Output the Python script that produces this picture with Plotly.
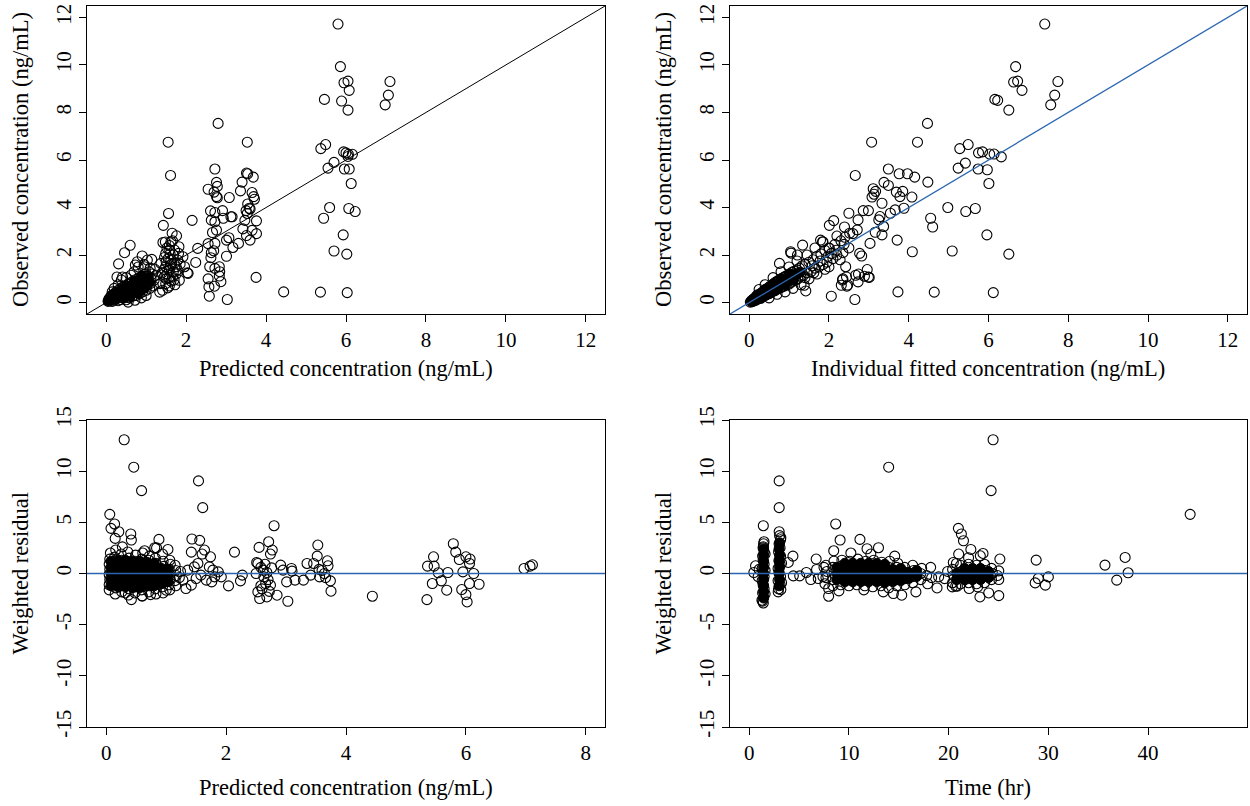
import plotly.graph_objects as go

# ---------------- data ----------------
# Panel 1: population predicted vs observed concentration (ng/mL)
pred_obs_sparse = [
    (5.80, 11.72), (5.86, 9.93), (5.95, 9.25), (6.05, 9.32), (6.08, 8.93), (7.10, 9.30), (7.06, 8.73),
    (6.98, 8.32), (5.46, 8.55), (5.89, 8.48), (6.05, 8.10), (2.80, 7.54), (1.55, 6.75), (3.53, 6.75),
    (5.37, 6.48), (5.49, 6.65), (5.94, 6.34), (6.00, 6.30), (6.06, 6.24), (6.16, 6.24), (6.05, 6.15),
    (5.70, 5.90), (5.55, 5.66), (5.96, 5.62), (6.08, 5.62), (6.13, 5.01), (1.61, 5.35), (2.72, 5.62),
    (3.51, 5.45), (3.54, 5.42), (3.68, 5.28), (3.40, 5.07), (2.76, 5.06), (2.78, 4.89), (2.55, 4.77),
    (2.70, 4.65), (2.76, 4.46), (2.78, 4.41), (3.08, 4.42), (3.36, 4.70), (3.65, 4.63), (3.69, 4.46),
    (3.71, 4.35), (3.54, 4.15), (3.58, 3.97), (3.50, 3.87), (5.59, 4.00), (6.07, 3.96), (6.23, 3.83),
    (5.44, 3.55), (1.56, 3.75), (2.15, 3.46), (1.43, 3.25), (2.61, 3.86), (2.72, 3.79), (2.63, 3.47),
    (2.72, 3.40), (2.76, 3.05), (2.66, 2.95), (2.91, 3.87), (2.93, 3.55), (3.15, 3.61), (3.12, 3.61),
    (3.53, 3.75), (3.60, 3.94), (3.76, 3.44), (3.47, 3.46), (3.42, 3.10), (3.65, 3.04), (3.76, 2.90),
    (3.51, 2.82), (3.60, 2.63), (5.93, 2.85), (5.70, 2.17), (6.02, 2.04), (1.42, 2.53), (1.65, 2.92),
    (1.76, 2.81), (1.62, 2.56), (2.55, 2.48), (2.72, 2.49), (2.63, 2.10), (2.69, 2.18), (2.62, 1.89),
    (2.59, 1.51), (2.72, 1.44), (2.83, 1.51), (2.84, 1.30), (2.83, 1.12), (2.87, 0.88), (2.55, 1.00),
    (2.57, 0.66), (2.71, 0.69), (2.58, 0.27), (3.03, 0.13), (3.07, 2.73), (3.01, 2.63), (3.17, 2.32),
    (3.31, 2.49), (3.01, 1.95), (2.29, 2.28), (2.24, 1.69), (2.03, 1.25), (3.75, 1.06), (4.44, 0.45),
    (5.36, 0.44), (6.03, 0.42), (0.60, 2.41), (0.46, 2.10), (0.31, 1.63),
    (1.49, 2.07), (1.59, 2.21), (1.71, 2.21), (1.81, 2.07), (1.92, 1.93), (1.96, 1.51), (2.05, 1.23),
    (1.83, 0.94), (1.66, 1.08), (1.49, 0.80), (1.41, 0.52), (1.34, 0.44), (1.58, 1.37), (1.75, 1.51),
    (1.49, 1.51), (1.37, 1.65), (1.45, 1.08), (1.62, 1.79), (1.79, 1.79), (1.52, 1.20), (1.60, 1.55),
    (1.68, 1.30), (1.55, 1.85), (1.70, 1.65), (1.50, 1.00), (1.62, 0.90), (1.45, 1.40), (1.75, 1.20),
    (1.58, 2.40), (1.66, 2.60), (1.52, 2.30), (0.78, 1.72), (0.90, 1.96), (1.03, 1.79), (1.14, 1.82),
    (0.73, 1.58), (0.95, 1.51), (0.27, 1.08), (0.41, 1.08), (1.54, 0.62), (1.72, 0.75), (1.46, 1.90),
    (1.68, 2.00), (1.57, 1.05), (1.78, 1.38), (1.40, 1.25), (1.64, 1.62), (1.50, 1.72), (1.85, 1.62),
    (1.35, 0.80), (1.58, 0.70), (1.70, 0.95), (1.48, 2.55), (1.60, 2.05), (1.82, 2.35),
]
pred_obs_rings = [
    (0.05, 0.05), (0.07, 0.15), (0.09, 0.08), (0.10, 0.22), (0.12, 0.12), (0.13, 0.30), (0.15, 0.05),
    (0.16, 0.18), (0.18, 0.35), (0.20, 0.10), (0.21, 0.26), (0.23, 0.42), (0.25, 0.16), (0.27, 0.32),
    (0.28, 0.50), (0.30, 0.08), (0.31, 0.22), (0.33, 0.40), (0.35, 0.58), (0.36, 0.13), (0.38, 0.30),
    (0.40, 0.47), (0.41, 0.65), (0.43, 0.20), (0.45, 0.37), (0.46, 0.55), (0.48, 0.72), (0.50, 0.12),
    (0.51, 0.28), (0.53, 0.45), (0.55, 0.62), (0.56, 0.80), (0.58, 0.20), (0.60, 0.36), (0.61, 0.53),
    (0.63, 0.70), (0.65, 0.88), (0.66, 0.27), (0.68, 0.44), (0.70, 0.62), (0.71, 0.79), (0.73, 0.96),
    (0.75, 0.30), (0.76, 0.50), (0.78, 0.68), (0.80, 0.86), (0.81, 1.04), (0.83, 0.38), (0.85, 0.56),
    (0.86, 0.75), (0.88, 0.94), (0.90, 1.12), (0.91, 0.45), (0.93, 0.64), (0.95, 0.83), (0.96, 1.01),
    (0.98, 1.20), (1.00, 0.52), (1.02, 0.72), (1.03, 0.92), (1.05, 1.10), (1.07, 1.30), (1.09, 0.60),
    (1.10, 0.80), (1.12, 1.00), (1.15, 1.20), (1.18, 0.70), (1.20, 0.95), (1.22, 1.40), (0.30, 0.75),
    (0.20, 0.60), (0.38, 0.95), (0.50, 1.05), (0.62, 1.15), (0.70, 1.30), (0.15, 0.45), (0.55, 0.02),
    (0.72, 0.10), (0.88, 0.20), (1.00, 0.30), (0.80, 1.50), (0.95, 1.60), (1.25, 1.15), (1.10, 1.45),
]
# heavily overplotted core (drawn as solid, as the overlapping rings appear)
pred_obs_core = [
    (0.10, 0.12), (0.15, 0.20), (0.20, 0.15), (0.25, 0.30), (0.30, 0.20), (0.35, 0.40), (0.40, 0.30),
    (0.45, 0.50), (0.50, 0.35), (0.55, 0.60), (0.60, 0.45), (0.65, 0.70), (0.70, 0.50), (0.75, 0.80),
    (0.80, 0.60), (0.85, 0.90), (0.90, 0.70), (0.95, 1.00), (1.00, 0.80), (0.30, 0.45), (0.50, 0.70),
    (0.70, 0.90), (0.60, 0.25), (0.80, 0.40), (0.95, 0.60), (0.20, 0.35), (0.40, 0.55), (0.05, 0.08),
    (1.05, 1.05), (0.45, 0.20), (0.88, 1.10), (1.08, 0.85),
]

# Panel 2: individual fitted vs observed concentration (ng/mL)
ipred_obs_sparse = [
    (7.41, 11.72), (6.68, 9.93), (6.63, 9.28), (6.73, 9.32), (6.84, 8.93), (7.74, 9.30), (7.66, 8.73),
    (7.56, 8.32), (6.16, 8.55), (6.23, 8.51), (6.51, 8.10), (4.47, 7.54), (3.07, 6.75), (4.22, 6.75),
    (5.28, 6.48), (5.49, 6.65), (5.75, 6.30), (5.85, 6.34), (6.03, 6.25), (6.14, 6.25), (6.32, 6.13),
    (5.42, 5.87), (5.24, 5.66), (5.74, 5.62), (5.97, 5.59), (6.01, 5.01), (2.66, 5.35), (3.49, 5.62),
    (3.76, 5.42), (3.97, 5.42), (4.15, 5.28), (4.48, 5.07), (3.38, 5.06), (3.49, 4.93), (3.11, 4.79),
    (3.17, 4.68), (3.08, 4.44), (3.13, 4.56), (3.33, 4.18), (3.69, 4.65), (3.85, 4.68), (3.78, 4.46),
    (4.08, 4.44), (3.66, 3.90), (3.88, 3.97), (3.54, 3.76), (4.98, 4.00), (5.43, 3.83), (5.67, 3.96),
    (4.55, 3.55), (4.60, 3.18), (5.96, 2.85), (4.09, 2.14), (5.09, 2.17), (6.51, 2.04), (3.73, 0.45),
    (4.64, 0.44), (6.12, 0.42), (2.06, 0.27), (2.65, 0.13), (2.50, 3.76), (2.86, 3.87), (2.99, 3.87),
    (3.28, 3.62), (3.25, 3.48), (2.12, 3.45), (2.01, 3.25), (2.39, 3.18), (2.73, 3.48), (2.71, 3.06),
    (2.52, 2.92), (3.16, 2.96), (3.33, 2.85), (3.71, 2.63), (3.37, 3.20), (3.03, 2.49), (2.82, 1.96),
    (2.77, 2.07), (2.42, 1.51), (2.44, 1.08), (2.35, 1.00), (2.31, 0.73), (2.45, 0.69), (2.67, 1.15),
    (2.73, 0.87), (2.96, 1.39), (3.01, 1.06), (2.89, 1.11), (1.34, 2.42), (1.04, 2.14), (1.21, 2.00),
    (0.76, 1.65), (1.79, 2.63), (1.84, 2.56), (2.01, 2.28), (2.06, 2.07), (1.38, 0.73), (1.42, 0.49),
    (2.34, 0.95), (2.47, 0.74), (2.74, 1.20), (2.99, 1.07), (1.05, 2.08),
]
ipred_obs_rings = [
    (0.03, 0.02), (0.06, 0.08), (0.08, 0.04), (0.10, 0.14), (0.12, 0.07), (0.14, 0.20), (0.16, 0.10),
    (0.18, 0.25), (0.20, 0.14), (0.22, 0.30), (0.24, 0.17), (0.26, 0.35), (0.28, 0.20), (0.30, 0.40),
    (0.32, 0.24), (0.34, 0.45), (0.36, 0.28), (0.38, 0.50), (0.40, 0.30), (0.42, 0.55), (0.44, 0.34),
    (0.46, 0.60), (0.48, 0.38), (0.50, 0.65), (0.52, 0.40), (0.54, 0.70), (0.56, 0.44), (0.58, 0.75),
    (0.60, 0.48), (0.62, 0.80), (0.64, 0.50), (0.66, 0.85), (0.68, 0.55), (0.70, 0.90), (0.72, 0.58),
    (0.75, 0.95), (0.78, 0.62), (0.80, 1.00), (0.83, 0.66), (0.86, 1.05), (0.88, 0.70), (0.90, 1.10),
    (0.93, 0.74), (0.96, 1.15), (1.00, 0.78), (1.02, 1.20), (1.05, 0.85), (1.08, 1.28), (1.10, 0.90),
    (1.13, 1.32), (1.16, 0.95), (1.20, 1.38), (1.22, 1.00), (1.26, 1.45), (1.30, 1.10), (1.33, 1.55),
    (1.36, 1.15), (1.40, 1.62), (1.45, 1.25), (1.50, 1.70), (1.55, 1.30), (1.60, 1.80), (1.65, 1.45),
    (1.70, 1.95), (1.75, 1.50), (1.80, 2.05), (1.85, 1.60), (1.90, 2.20), (1.95, 1.70), (2.00, 2.30),
    (2.10, 1.85), (2.15, 2.45), (2.20, 2.00), (2.30, 2.60), (2.35, 2.10), (2.40, 2.75), (0.50, 0.20),
    (0.70, 0.35), (0.90, 0.45), (1.10, 0.60), (1.30, 0.75), (0.40, 0.75), (0.60, 1.05), (0.80, 1.30),
    (1.00, 1.50), (1.20, 1.75), (0.25, 0.55), (1.50, 1.00), (1.70, 1.20), (1.90, 1.40), (1.45, 2.00),
    (1.65, 2.30), (2.00, 1.50), (2.50, 2.30), (2.60, 2.90), (2.20, 2.80), (1.85, 2.55), (1.58, 1.55),
    (1.78, 1.75), (1.98, 1.95), (2.18, 2.20), (2.38, 2.45), (1.40, 1.05), (1.62, 1.25), (2.28, 1.80),
]
ipred_obs_core = [
    (0.05, 0.05), (0.10, 0.10), (0.15, 0.13), (0.20, 0.20), (0.25, 0.22), (0.30, 0.30), (0.35, 0.33),
    (0.40, 0.40), (0.45, 0.42), (0.50, 0.50), (0.55, 0.52), (0.60, 0.60), (0.65, 0.63), (0.70, 0.70),
    (0.75, 0.72), (0.80, 0.80), (0.85, 0.83), (0.90, 0.90), (0.95, 0.92), (1.00, 1.00), (1.05, 1.03),
    (1.10, 1.10), (1.15, 1.12), (1.20, 1.20), (1.28, 1.28), (0.30, 0.18), (0.50, 0.38), (0.70, 0.58),
    (0.90, 0.76), (1.10, 0.95), (0.40, 0.55), (0.60, 0.78), (0.80, 1.00), (1.00, 1.20), (0.20, 0.32),
]

# Panel 3: population predicted concentration vs weighted residual
pred_wres_sparse = [
    (0.30, 13.07), (0.46, 10.39), (0.59, 8.10), (1.54, 9.05), (1.61, 6.44), (0.06, 5.78), (0.14, 4.84),
    (0.08, 4.41), (0.21, 4.08), (2.80, 4.67), (0.41, 3.86), (0.15, 3.43), (0.42, 3.27), (0.88, 3.33),
    (1.43, 3.37), (1.56, 3.24), (2.71, 3.10), (5.79, 2.91), (3.53, 2.78), (2.55, 2.55), (0.81, 2.52),
    (1.03, 2.35), (0.64, 2.22), (1.42, 2.09), (1.64, 2.29), (1.60, 1.90), (1.74, 1.63), (2.14, 2.09),
    (2.77, 2.29), (2.74, 1.90), (3.52, 1.70), (3.69, 1.24), (3.35, 0.98), (3.46, 0.98), (3.70, 0.75),
    (5.46, 1.63), (5.83, 2.09), (5.89, 1.37), (6.00, 1.63), (6.07, 1.41), (6.06, 0.98), (5.36, 0.72),
    (5.47, 0.72), (5.54, 0.07), (5.70, 0.10), (5.95, 0.16), (6.13, 0.00), (5.44, -0.98), (5.59, -0.72),
    (5.68, -1.63), (5.35, -2.55), (5.93, -1.57), (6.06, -0.98), (6.22, -1.05), (6.00, -2.06),
    (6.02, -2.78), (6.97, 0.49), (7.07, 0.72), (7.11, 0.85), (4.44, -2.22), (2.04, -1.21), (2.24, -0.72),
    (2.27, -0.16), (2.50, 0.00), (2.51, 1.08), (2.53, 0.98), (2.53, -1.80), (2.56, -2.45), (2.68, -2.29),
    (2.85, -2.12), (3.03, -2.71), (3.01, -0.82), (3.15, -0.65), (3.29, -0.65), (3.09, 0.49), (3.10, 0.23),
    (2.63, -0.33), (2.66, -0.98), (2.74, -1.14), (2.62, 0.33), (2.91, 0.82), (2.95, 0.33), (3.41, -0.16),
    (3.56, -0.33), (3.64, 0.00), (3.74, -0.72), (3.75, -1.73), (1.28, -0.65), (1.33, -1.47), (1.42, -1.14),
    (1.50, -0.49), (1.58, -0.16), (1.67, -0.65), (1.76, -0.82), (1.81, -0.33), (1.87, 0.16), (1.92, -0.33),
    (1.36, 0.33), (1.47, 0.65), (1.53, 0.98), (1.72, 0.65), (1.78, 0.33), (0.42, -2.55), (0.60, -2.19),
    (0.74, -2.06), (0.32, -1.90), (1.00, -1.63), (2.58, 0.60), (2.70, -0.60), (2.60, -1.50), (3.55, 0.40),
    (2.65, 0.90), (2.72, -1.75), (2.58, -1.20), (2.68, 0.10), (2.76, 0.55), (3.60, 0.30), (3.66, -0.40),
]
pred_wres_rings = [
    (0.05, -1.6), (0.05, -1.1), (0.06, -0.6), (0.05, -0.1), (0.06, 0.4), (0.05, 0.9), (0.06, 1.4),
    (0.07, 2.0), (0.15, -2.0), (0.16, -1.4), (0.15, -0.9), (0.14, -0.4), (0.15, 0.1), (0.16, 0.6),
    (0.15, 1.1), (0.14, 1.6), (0.16, 2.3), (0.26, -1.8), (0.25, -1.2), (0.27, -0.7), (0.26, -0.2),
    (0.25, 0.3), (0.27, 0.8), (0.26, 1.3), (0.25, 1.9), (0.27, 2.6), (0.37, -2.1), (0.38, -1.5),
    (0.36, -1.0), (0.37, -0.5), (0.38, 0.0), (0.36, 0.5), (0.37, 1.0), (0.38, 1.5), (0.36, 2.1),
    (0.48, -1.9), (0.49, -1.3), (0.47, -0.8), (0.48, -0.3), (0.49, 0.2), (0.47, 0.7), (0.48, 1.2),
    (0.49, 1.8), (0.60, -2.2), (0.59, -1.6), (0.61, -1.1), (0.60, -0.6), (0.59, -0.1), (0.61, 0.4),
    (0.60, 0.9), (0.59, 1.4), (0.61, 2.0), (0.71, -1.8), (0.72, -1.2), (0.70, -0.7), (0.71, -0.2),
    (0.72, 0.3), (0.70, 0.8), (0.71, 1.3), (0.72, 1.7), (0.83, -2.0), (0.82, -1.5), (0.84, -1.0),
    (0.83, -0.5), (0.82, 0.0), (0.84, 0.5), (0.83, 1.0), (0.82, 1.5), (0.84, 2.5), (0.95, -1.9),
    (0.94, -1.3), (0.96, -0.8), (0.95, -0.3), (0.94, 0.2), (0.96, 0.7), (0.95, 1.2), (0.94, 1.9),
    (1.06, -1.6), (1.05, -1.1), (1.07, -0.6), (1.06, -0.1), (1.05, 0.4), (1.07, 0.9), (1.06, 1.3),
    (1.16, -1.2), (1.15, -0.7), (1.17, -0.2), (1.16, 0.3), (1.15, 0.8), (1.22, -0.4), (1.24, 0.2),
]
pred_wres_core = [
    (0.08, -1.2), (0.08, -0.6), (0.08, 0.0), (0.08, 0.6), (0.08, 1.2), (0.20, -1.3), (0.20, -0.6),
    (0.20, 0.0), (0.20, 0.6), (0.20, 1.3), (0.32, -1.3), (0.32, -0.6), (0.32, 0.0), (0.32, 0.6),
    (0.32, 1.3), (0.44, -1.4), (0.44, -0.7), (0.44, 0.0), (0.44, 0.6), (0.44, 1.2), (0.56, -1.4),
    (0.56, -0.7), (0.56, 0.0), (0.56, 0.6), (0.56, 1.2), (0.68, -1.2), (0.68, -0.6), (0.68, 0.0),
    (0.68, 0.6), (0.68, 1.1), (0.80, -1.2), (0.80, -0.6), (0.80, 0.0), (0.80, 0.6), (0.80, 1.0),
    (0.92, -1.0), (0.92, -0.5), (0.92, 0.0), (0.92, 0.5), (1.03, -0.8), (1.03, -0.2), (1.03, 0.4),
]

# Panel 4: time (hr) vs weighted residual
time_wres_sparse = [
    (24.46, 13.07), (13.99, 10.39), (24.26, 8.10), (3.01, 9.05), (3.01, 6.44), (44.22, 5.78),
    (1.42, 4.67), (8.68, 4.84), (20.98, 4.41), (21.28, 3.86), (21.49, 3.20), (3.01, 4.08), (3.18, 3.50),
    (9.12, 3.27), (11.11, 3.33), (12.97, 2.52), (11.82, 2.42), (1.49, 3.10), (1.42, 2.61), (22.23, 2.35),
    (23.45, 1.96), (25.14, 1.41), (22.00, 1.54), (23.18, 1.73), (21.01, 1.90), (20.47, 1.08),
    (20.78, 0.98), (4.39, 1.70), (3.92, 1.08), (6.72, 1.41), (6.76, 0.39), (8.48, 2.22), (28.78, 1.31),
    (28.99, -0.49), (28.68, -0.92), (29.70, -1.14), (30.00, -0.33), (35.68, 0.82), (37.70, 1.57),
    (38.00, 0.07), (36.86, -0.65), (4.43, -0.23), (5.07, -0.23), (5.74, 0.10), (6.18, -0.59),
    (6.93, -0.49), (7.97, -2.22), (7.97, -1.47), (0.47, 0.10), (0.64, 0.75), (1.42, -2.88),
    (1.28, -2.61), (2.91, -1.80), (3.18, -1.57), (16.72, -1.80), (15.30, -2.12), (14.46, -1.96),
    (13.45, -1.80), (18.84, -1.41), (20.71, -1.24), (19.00, -0.33), (23.14, -2.29), (24.02, -1.90),
    (25.03, -2.16), (25.03, -0.59), (25.03, 0.26), (20.37, -1.31), (20.88, -1.24), (22.06, -1.47),
    (22.91, -1.31), (10.20, 2.00), (12.20, 1.90), (14.60, 1.70), (9.00, -1.70), (11.50, -1.60),
    (1.00, 0.40), (0.90, -0.30), (7.50, 0.60), (7.40, -0.30), (18.20, 0.60), (17.90, -1.00),
]
time_wres_rings = [
    (1.35, -2.7), (1.45, -2.3), (1.35, -1.9), (1.50, -1.5), (1.40, -1.1), (1.30, -0.7), (1.50, -0.3),
    (1.40, 0.1), (1.30, 0.5), (1.50, 0.9), (1.40, 1.3), (1.35, 1.7), (1.50, 2.1), (1.40, 2.5),
    (1.45, 2.9), (1.60, -2.0), (1.60, 0.3), (1.60, 1.9), (2.95, -1.5), (3.10, -1.1), (2.90, -0.7),
    (3.15, -0.3), (3.00, 0.1), (2.90, 0.5), (3.10, 0.9), (3.00, 1.3), (3.15, 1.7), (2.95, 2.1),
    (3.10, 2.5), (3.00, 2.9), (3.15, 3.3), (3.05, 3.7), (3.25, -0.9), (3.25, 1.0),
    (7.6, -1.0), (7.7, -0.4), (7.8, 0.2), (7.7, 0.8), (8.4, -1.2), (8.4, -0.6), (8.5, 0.0), (8.4, 0.6),
    (8.5, 1.2), (9.2, -1.1), (9.2, -0.5), (9.3, 0.1), (9.2, 0.7), (9.3, 1.3), (10.0, -1.2),
    (10.0, -0.6), (10.1, 0.0), (10.0, 0.6), (10.1, 1.2), (10.8, -1.1), (10.8, -0.5), (10.9, 0.1),
    (10.8, 0.7), (10.9, 1.4), (11.6, -1.2), (11.6, -0.6), (11.7, 0.0), (11.6, 0.6), (11.7, 1.2),
    (12.4, -1.3), (12.4, -0.5), (12.5, 0.1), (12.4, 0.7), (12.5, 1.3), (13.2, -1.2), (13.2, -0.6),
    (13.3, 0.0), (13.2, 0.6), (13.3, 1.1), (14.0, -1.4), (14.0, -0.6), (14.1, 0.0), (14.0, 0.6),
    (14.1, 1.2), (14.8, -1.2), (14.8, -0.6), (14.9, 0.0), (14.8, 0.6), (14.9, 1.0), (15.6, -1.1),
    (15.6, -0.5), (15.7, 0.1), (15.6, 0.6), (16.4, -0.9), (16.4, -0.3), (16.5, 0.3), (16.4, 0.8),
    (17.2, -0.6), (17.2, 0.0), (17.3, 0.5), (17.8, -0.2), (18.3, -0.4),
    (19.6, -0.5), (19.9, 0.2), (20.4, -0.9), (20.5, -0.2), (20.4, 0.4), (21.2, -1.0), (21.2, -0.4),
    (21.3, 0.2), (21.2, 0.8), (22.0, -0.9), (22.0, -0.3), (22.1, 0.3), (22.0, 0.9), (22.8, -1.0),
    (22.8, -0.4), (22.9, 0.2), (22.8, 0.8), (23.6, -0.9), (23.6, -0.3), (23.7, 0.3), (23.6, 0.9),
    (24.3, -0.6), (24.4, 0.0), (24.3, 0.5), (24.9, -0.2),
]
time_wres_core = [
    (1.45, -2.4), (1.45, -1.8), (1.45, -1.2), (1.45, -0.6), (1.45, 0.0), (1.45, 0.6), (1.45, 1.2),
    (1.45, 1.8), (1.45, 2.4), (3.00, -1.2), (3.05, -0.6), (3.00, 0.0), (3.05, 0.6), (3.00, 1.2),
    (3.05, 1.8), (3.00, 2.4), (3.05, 3.0),
    (8.8, -0.6), (8.8, 0.0), (8.8, 0.6), (9.6, -0.8), (9.6, -0.2), (9.6, 0.4), (9.6, 1.0),
    (10.4, -0.8), (10.4, -0.2), (10.4, 0.4), (10.4, 1.0), (11.2, -0.8), (11.2, -0.2), (11.2, 0.4),
    (11.2, 1.0), (12.0, -0.8), (12.0, -0.2), (12.0, 0.4), (12.0, 1.0), (12.8, -0.8), (12.8, -0.2),
    (12.8, 0.4), (12.8, 1.0), (13.6, -0.9), (13.6, -0.3), (13.6, 0.3), (13.6, 0.9), (14.4, -0.8),
    (14.4, -0.2), (14.4, 0.4), (15.2, -0.7), (15.2, -0.1), (15.2, 0.5), (16.0, -0.5), (16.0, 0.1),
    (16.8, -0.3), (16.8, 0.3),
    (20.8, -0.6), (20.8, 0.0), (21.6, -0.6), (21.6, 0.0), (21.6, 0.5), (22.4, -0.6), (22.4, 0.0),
    (22.4, 0.5), (23.2, -0.6), (23.2, 0.0), (23.2, 0.5), (24.0, -0.4), (24.0, 0.2),
]

# axis titles and ranges
x_titles = ["Predicted concentration (ng/mL)", "Individual fitted concentration (ng/mL)",
            "Predicted concentration (ng/mL)", "Time (hr)"]
y_titles = ["Observed concentration (ng/mL)", "Observed concentration (ng/mL)",
            "Weighted residual", "Weighted residual"]
x_tickvals = [[0, 2, 4, 6, 8, 10, 12], [0, 2, 4, 6, 8, 10, 12], [0, 2, 4, 6, 8], [0, 10, 20, 30, 40]]
y_tickvals = [[0, 2, 4, 6, 8, 10, 12], [0, 2, 4, 6, 8, 10, 12],
              [-15, -10, -5, 0, 5, 10, 15], [-15, -10, -5, 0, 5, 10, 15]]
x_ranges = [[-0.48, 12.48], [-0.48, 12.48], [-0.32, 8.32], [-1.92, 49.92]]
y_ranges = [[-0.48, 12.48], [-0.48, 12.48], [-15, 15], [-15, 15]]

# ---------------- figure ----------------
W, H = 1250, 806
FONT = "Liberation Serif"
BLUE = "#2a66b0"

# panel boxes in pixels: (left, right, top, bottom) and x-title offset below box
boxes = [(87, 605, 6, 314), (730, 1247, 6, 314), (87, 605, 420, 727), (730, 1247, 420, 727)]
xtitle_gap = [54, 54, 60, 60]

fig = go.Figure()
open_sets = [pred_obs_sparse + pred_obs_rings, ipred_obs_sparse + ipred_obs_rings,
             pred_wres_sparse + pred_wres_rings, time_wres_sparse + time_wres_rings]
core_sets = [pred_obs_core, ipred_obs_core, pred_wres_core, time_wres_core]

ring = dict(symbol="circle-open", size=10, color="black", line=dict(color="black", width=1.1))
solid = dict(symbol="circle", size=10, color="black", line=dict(color="black", width=1))

for i in range(4):
    ax = "" if i == 0 else str(i + 1)
    for pts, mk in ((core_sets[i], solid), (open_sets[i], ring)):
        fig.add_trace(go.Scatter(x=[p[0] for p in pts], y=[p[1] for p in pts], mode="markers",
                                 marker=mk, xaxis="x" + ax, yaxis="y" + ax, showlegend=False,
                                 hoverinfo="x+y"))

# reference lines
fig.add_trace(go.Scatter(x=[-1, 13], y=[-1, 13], mode="lines", line=dict(color="black", width=1),
                         xaxis="x", yaxis="y", showlegend=False, hoverinfo="skip"))
fig.add_trace(go.Scatter(x=[-1, 13], y=[-1, 13], mode="lines", line=dict(color=BLUE, width=1.3),
                         xaxis="x2", yaxis="y2", showlegend=False, hoverinfo="skip"))
fig.add_trace(go.Scatter(x=[-1, 9], y=[0, 0], mode="lines", line=dict(color=BLUE, width=1.3),
                         xaxis="x3", yaxis="y3", showlegend=False, hoverinfo="skip"))
fig.add_trace(go.Scatter(x=[-3, 51], y=[0, 0], mode="lines", line=dict(color=BLUE, width=1.3),
                         xaxis="x4", yaxis="y4", showlegend=False, hoverinfo="skip"))

layout = dict(width=W, height=H, margin=dict(l=0, r=0, t=0, b=0, autoexpand=False),
              paper_bgcolor="white", plot_bgcolor="white", showlegend=False)
annotations = []
for i, (l, r, t, b) in enumerate(boxes):
    ax = "" if i == 0 else str(i + 1)
    common = dict(showline=True, mirror=True, linecolor="black", linewidth=1, showgrid=False,
                  zeroline=False, ticks="outside", ticklen=7, tickwidth=1, tickcolor="black",
                  automargin=False, tickfont=dict(family=FONT, size=21, color="black"))
    layout["xaxis" + ax] = dict(common, domain=[l / W, r / W], range=x_ranges[i],
                                tickvals=x_tickvals[i], ticktext=[str(v) for v in x_tickvals[i]],
                                anchor="y" + ax)
    layout["yaxis" + ax] = dict(common, domain=[1 - b / H, 1 - t / H], range=y_ranges[i],
                                tickvals=y_tickvals[i], ticktext=[str(v) for v in y_tickvals[i]],
                                tickangle=-90, anchor="x" + ax)
    annotations.append(dict(text=x_titles[i], x=(l + r) / 2 / W, y=1 - (b + xtitle_gap[i]) / H,
                            xref="paper", yref="paper", showarrow=False, xanchor="center",
                            yanchor="middle", font=dict(family=FONT, size=22.5, color="black")))
    annotations.append(dict(text=y_titles[i], x=(l - 67) / W, y=1 - (t + b) / 2 / H,
                            xref="paper", yref="paper", showarrow=False, xanchor="center",
                            yanchor="middle", textangle=-90,
                            font=dict(family=FONT, size=22.5, color="black")))
layout["annotations"] = annotations
fig.update_layout(**layout)

# remove the browser's default 8px page margin so the figure sits at the window origin
fig.write_html("out.html", config={"displayModeBar": False},
               post_script="document.body.style.margin='0px';")
